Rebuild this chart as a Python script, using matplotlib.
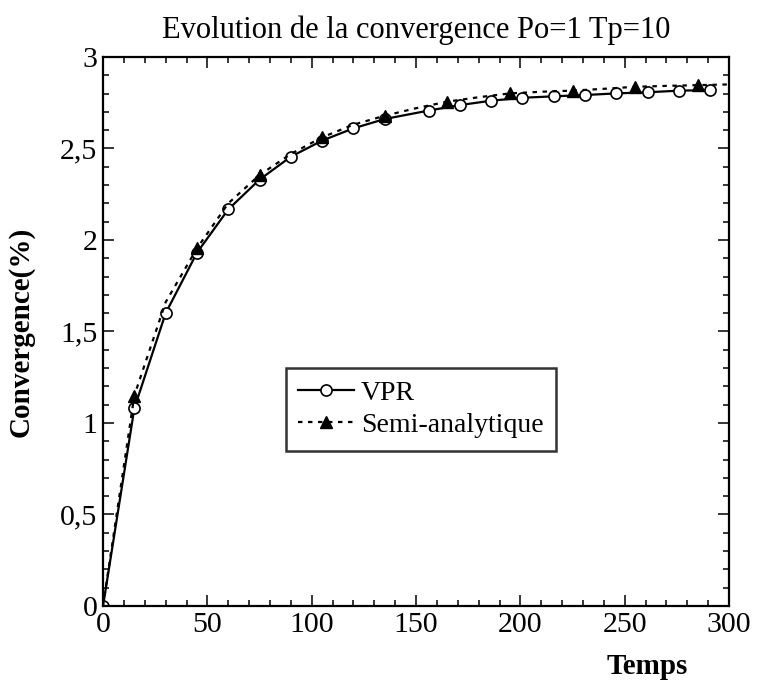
import matplotlib
matplotlib.use("Agg")
import matplotlib.pyplot as plt
from matplotlib.ticker import MultipleLocator, FixedLocator

plt.rcParams['font.family'] = ['Liberation Serif', 'DejaVu Serif']

title = "Evolution de la convergence Po=1 Tp=10"
xlabel = "Temps"
ylabel = "Convergence(%)"

# VPR (circles)
vpr_t = [0, 15, 30, 45, 60, 75, 90, 105, 120, 135, 156, 171, 186, 201, 216, 231, 246, 261, 276, 291]
vpr_y = [0.0, 1.08, 1.60, 1.93, 2.167, 2.33, 2.455, 2.543, 2.61, 2.661, 2.707, 2.737, 2.761, 2.777,
         2.785, 2.792, 2.801, 2.807, 2.816, 2.819]

# Semi-analytique (triangles every other point)
sa_t = [0, 15, 30, 45, 60, 75, 90, 105, 120, 135, 150, 165, 180, 195, 210, 225, 240, 255, 270, 285, 300]
sa_y = [0.0, 1.15, 1.66, 1.954, 2.20, 2.355, 2.47, 2.561, 2.63, 2.679, 2.72, 2.756, 2.78, 2.801,
        2.81, 2.816, 2.826, 2.837, 2.842, 2.846, 2.85]

xticks = [0, 50, 100, 150, 200, 250, 300]
yticks = [0, 0.5, 1, 1.5, 2, 2.5, 3]
yticklabels = ["0", "0,5", "1", "1,5", "2", "2,5", "3"]

fig = plt.figure(figsize=(7.61, 6.88), dpi=100)
ax = fig.add_axes([0.1354, 0.1192, 0.8226, 0.7980])

ax.plot(vpr_t, vpr_y, color='black', lw=1.6, marker='o', ms=8, mfc='white', mec='black',
        mew=1.2, label='VPR')
ax.plot(sa_t, sa_y, color='black', lw=1.6, linestyle=(0, (2, 2.5)), marker='^', ms=8,
        mfc='black', mec='black', markevery=list(range(1, len(sa_t), 2)), label='Semi-analytique')

ax.set_xlim(0, 300)
ax.set_ylim(0, 3)
ax.xaxis.set_major_locator(FixedLocator(xticks))
ax.yaxis.set_major_locator(FixedLocator(yticks))
ax.set_yticklabels(yticklabels)
ax.xaxis.set_minor_locator(MultipleLocator(10))
ax.yaxis.set_minor_locator(MultipleLocator(0.1))
ax.tick_params(which='both', direction='in', top=True, right=True, labelsize=21.5, width=1.1)
ax.tick_params(which='major', length=8, pad=4)
ax.tick_params(which='minor', length=4.5)
for s in ax.spines.values():
    s.set_linewidth(1.6)

ax.set_title(title, fontsize=22, pad=14)
ax.set_ylabel(ylabel, fontsize=21, fontweight='bold')
ax.yaxis.set_label_coords(-0.11, 0.5)
ax.set_xlabel(xlabel, fontsize=21, fontweight='bold')
ax.xaxis.set_label_coords(0.87, -0.085)

leg = ax.legend(loc='upper left', bbox_to_anchor=(0.292, 0.434), fontsize=20, frameon=True,
                fancybox=False, edgecolor='black', handlelength=2.0, borderpad=0.45,
                labelspacing=0.25, handletextpad=0.25, borderaxespad=0)
leg.get_frame().set_linewidth(1.8)

fig.savefig("out.png", dpi=100)
